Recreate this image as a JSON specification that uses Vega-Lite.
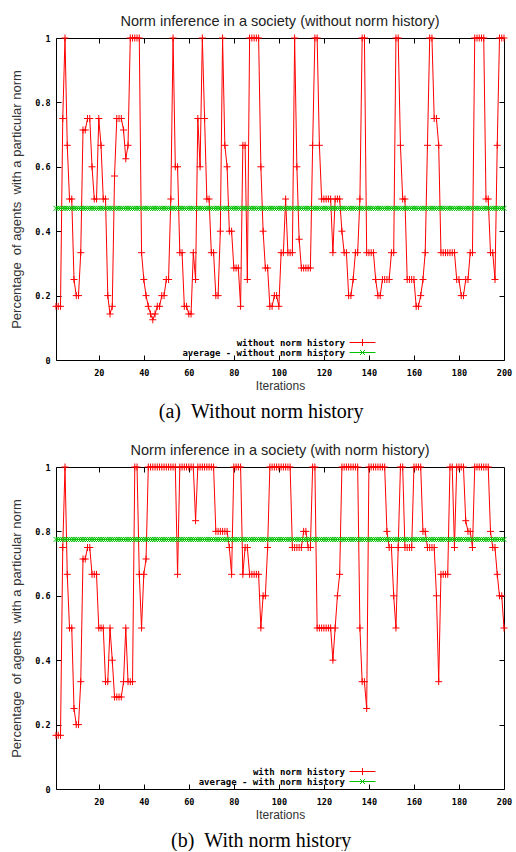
{
 "$schema": "https://vega.github.io/schema/vega-lite/v6.json",
 "background": "white",
 "padding": {"left": 10, "top": 13, "right": 4, "bottom": 0},
 "spacing": 20,
 "resolve": {"scale": {"color": "independent"}, "legend": {"color": "independent"}},
 "config": {"view": {"stroke": "#000", "strokeWidth": 1}},
 "datasets": {
  "a": [{"i":1,"v":0.1667,"avg":0.471},{"i":2,"v":0.1667,"avg":0.471},{"i":3,"v":0.1667,"avg":0.471},{"i":4,"v":0.75,"avg":0.471},{"i":5,"v":1,"avg":0.471},{"i":6,"v":0.6667,"avg":0.471},{"i":7,"v":0.5,"avg":0.471},{"i":8,"v":0.5,"avg":0.471},{"i":9,"v":0.25,"avg":0.471},{"i":10,"v":0.2,"avg":0.471},
{"i":11,"v":0.2,"avg":0.471},{"i":12,"v":0.3333,"avg":0.471},{"i":13,"v":0.7143,"avg":0.471},{"i":14,"v":0.7143,"avg":0.471},{"i":15,"v":0.75,"avg":0.471},{"i":16,"v":0.75,"avg":0.471},{"i":17,"v":0.6,"avg":0.471},{"i":18,"v":0.5,"avg":0.471},{"i":19,"v":0.5,"avg":0.471},{"i":20,"v":0.75,"avg":0.471},
{"i":21,"v":0.6667,"avg":0.471},{"i":22,"v":0.5,"avg":0.471},{"i":23,"v":0.5,"avg":0.471},{"i":24,"v":0.2,"avg":0.471},{"i":25,"v":0.1429,"avg":0.471},{"i":26,"v":0.1667,"avg":0.471},{"i":27,"v":0.5714,"avg":0.471},{"i":28,"v":0.75,"avg":0.471},{"i":29,"v":0.75,"avg":0.471},{"i":30,"v":0.75,"avg":0.471},
{"i":31,"v":0.7143,"avg":0.471},{"i":32,"v":0.625,"avg":0.471},{"i":33,"v":0.6667,"avg":0.471},{"i":34,"v":1,"avg":0.471},{"i":35,"v":1,"avg":0.471},{"i":36,"v":1,"avg":0.471},{"i":37,"v":1,"avg":0.471},{"i":38,"v":1,"avg":0.471},{"i":39,"v":0.3333,"avg":0.471},{"i":40,"v":0.25,"avg":0.471},
{"i":41,"v":0.2,"avg":0.471},{"i":42,"v":0.1667,"avg":0.471},{"i":43,"v":0.1429,"avg":0.471},{"i":44,"v":0.125,"avg":0.471},{"i":45,"v":0.1429,"avg":0.471},{"i":46,"v":0.1667,"avg":0.471},{"i":47,"v":0.1667,"avg":0.471},{"i":48,"v":0.2,"avg":0.471},{"i":49,"v":0.2,"avg":0.471},{"i":50,"v":0.25,"avg":0.471},
{"i":51,"v":0.25,"avg":0.471},{"i":52,"v":0.5,"avg":0.471},{"i":53,"v":1,"avg":0.471},{"i":54,"v":0.6,"avg":0.471},{"i":55,"v":0.6,"avg":0.471},{"i":56,"v":0.3333,"avg":0.471},{"i":57,"v":0.3333,"avg":0.471},{"i":58,"v":0.1667,"avg":0.471},{"i":59,"v":0.1667,"avg":0.471},{"i":60,"v":0.1429,"avg":0.471},
{"i":61,"v":0.1429,"avg":0.471},{"i":62,"v":0.3333,"avg":0.471},{"i":63,"v":0.25,"avg":0.471},{"i":64,"v":0.75,"avg":0.471},{"i":65,"v":0.6,"avg":0.471},{"i":66,"v":1,"avg":0.471},{"i":67,"v":0.75,"avg":0.471},{"i":68,"v":0.5,"avg":0.471},{"i":69,"v":0.5,"avg":0.471},{"i":70,"v":0.3333,"avg":0.471},
{"i":71,"v":0.3333,"avg":0.471},{"i":72,"v":0.2,"avg":0.471},{"i":73,"v":0.2,"avg":0.471},{"i":74,"v":0.4,"avg":0.471},{"i":75,"v":1,"avg":0.471},{"i":76,"v":0.6667,"avg":0.471},{"i":77,"v":0.6,"avg":0.471},{"i":78,"v":0.4,"avg":0.471},{"i":79,"v":0.4,"avg":0.471},{"i":80,"v":0.2857,"avg":0.471},
{"i":81,"v":0.2857,"avg":0.471},{"i":82,"v":0.2857,"avg":0.471},{"i":83,"v":0.1667,"avg":0.471},{"i":84,"v":0.6667,"avg":0.471},{"i":85,"v":0.6667,"avg":0.471},{"i":86,"v":0.25,"avg":0.471},{"i":87,"v":1,"avg":0.471},{"i":88,"v":1,"avg":0.471},{"i":89,"v":1,"avg":0.471},{"i":90,"v":1,"avg":0.471},
{"i":91,"v":1,"avg":0.471},{"i":92,"v":0.6,"avg":0.471},{"i":93,"v":0.4,"avg":0.471},{"i":94,"v":0.2857,"avg":0.471},{"i":95,"v":0.2857,"avg":0.471},{"i":96,"v":0.1667,"avg":0.471},{"i":97,"v":0.1667,"avg":0.471},{"i":98,"v":0.2,"avg":0.471},{"i":99,"v":0.2,"avg":0.471},{"i":100,"v":0.1667,"avg":0.471},
{"i":101,"v":0.3333,"avg":0.471},{"i":102,"v":0.3333,"avg":0.471},{"i":103,"v":0.5,"avg":0.471},{"i":104,"v":0.3333,"avg":0.471},{"i":105,"v":0.3333,"avg":0.471},{"i":106,"v":0.3333,"avg":0.471},{"i":107,"v":1,"avg":0.471},{"i":108,"v":0.6,"avg":0.471},{"i":109,"v":0.375,"avg":0.471},{"i":110,"v":0.2857,"avg":0.471},
{"i":111,"v":0.2857,"avg":0.471},{"i":112,"v":0.2857,"avg":0.471},{"i":113,"v":0.2857,"avg":0.471},{"i":114,"v":0.2857,"avg":0.471},{"i":115,"v":0.6667,"avg":0.471},{"i":116,"v":1,"avg":0.471},{"i":117,"v":1,"avg":0.471},{"i":118,"v":0.6667,"avg":0.471},{"i":119,"v":0.5,"avg":0.471},{"i":120,"v":0.5,"avg":0.471},
{"i":121,"v":0.5,"avg":0.471},{"i":122,"v":0.5,"avg":0.471},{"i":123,"v":0.5,"avg":0.471},{"i":124,"v":0.3333,"avg":0.471},{"i":125,"v":0.5,"avg":0.471},{"i":126,"v":0.5,"avg":0.471},{"i":127,"v":0.5,"avg":0.471},{"i":128,"v":0.4,"avg":0.471},{"i":129,"v":0.3333,"avg":0.471},{"i":130,"v":0.3333,"avg":0.471},
{"i":131,"v":0.2,"avg":0.471},{"i":132,"v":0.2,"avg":0.471},{"i":133,"v":0.25,"avg":0.471},{"i":134,"v":0.3333,"avg":0.471},{"i":135,"v":0.3333,"avg":0.471},{"i":136,"v":0.5,"avg":0.471},{"i":137,"v":1,"avg":0.471},{"i":138,"v":1,"avg":0.471},{"i":139,"v":0.3333,"avg":0.471},{"i":140,"v":0.3333,"avg":0.471},
{"i":141,"v":0.3333,"avg":0.471},{"i":142,"v":0.3333,"avg":0.471},{"i":143,"v":0.25,"avg":0.471},{"i":144,"v":0.2,"avg":0.471},{"i":145,"v":0.2,"avg":0.471},{"i":146,"v":0.25,"avg":0.471},{"i":147,"v":0.25,"avg":0.471},{"i":148,"v":0.25,"avg":0.471},{"i":149,"v":0.25,"avg":0.471},{"i":150,"v":0.3333,"avg":0.471},
{"i":151,"v":0.3333,"avg":0.471},{"i":152,"v":1,"avg":0.471},{"i":153,"v":1,"avg":0.471},{"i":154,"v":0.6667,"avg":0.471},{"i":155,"v":0.5,"avg":0.471},{"i":156,"v":0.5,"avg":0.471},{"i":157,"v":0.25,"avg":0.471},{"i":158,"v":0.25,"avg":0.471},{"i":159,"v":0.25,"avg":0.471},{"i":160,"v":0.25,"avg":0.471},
{"i":161,"v":0.1667,"avg":0.471},{"i":162,"v":0.1667,"avg":0.471},{"i":163,"v":0.2,"avg":0.471},{"i":164,"v":0.25,"avg":0.471},{"i":165,"v":0.3333,"avg":0.471},{"i":166,"v":0.6667,"avg":0.471},{"i":167,"v":1,"avg":0.471},{"i":168,"v":1,"avg":0.471},{"i":169,"v":0.75,"avg":0.471},{"i":170,"v":0.75,"avg":0.471},
{"i":171,"v":0.6667,"avg":0.471},{"i":172,"v":0.3333,"avg":0.471},{"i":173,"v":0.3333,"avg":0.471},{"i":174,"v":0.3333,"avg":0.471},{"i":175,"v":0.3333,"avg":0.471},{"i":176,"v":0.3333,"avg":0.471},{"i":177,"v":0.3333,"avg":0.471},{"i":178,"v":0.3333,"avg":0.471},{"i":179,"v":0.25,"avg":0.471},{"i":180,"v":0.25,"avg":0.471},
{"i":181,"v":0.2,"avg":0.471},{"i":182,"v":0.2,"avg":0.471},{"i":183,"v":0.25,"avg":0.471},{"i":184,"v":0.25,"avg":0.471},{"i":185,"v":0.3333,"avg":0.471},{"i":186,"v":0.3333,"avg":0.471},{"i":187,"v":1,"avg":0.471},{"i":188,"v":1,"avg":0.471},{"i":189,"v":1,"avg":0.471},{"i":190,"v":1,"avg":0.471},
{"i":191,"v":1,"avg":0.471},{"i":192,"v":0.5,"avg":0.471},{"i":193,"v":0.5,"avg":0.471},{"i":194,"v":0.3333,"avg":0.471},{"i":195,"v":0.3333,"avg":0.471},{"i":196,"v":0.25,"avg":0.471},{"i":197,"v":0.6667,"avg":0.471},{"i":198,"v":1,"avg":0.471},{"i":199,"v":1,"avg":0.471},{"i":200,"v":1,"avg":0.471}],
  "b": [{"i":1,"v":0.1667,"avg":0.775},{"i":2,"v":0.1667,"avg":0.775},{"i":3,"v":0.1667,"avg":0.775},{"i":4,"v":0.75,"avg":0.775},{"i":5,"v":1,"avg":0.775},{"i":6,"v":0.6667,"avg":0.775},{"i":7,"v":0.5,"avg":0.775},{"i":8,"v":0.5,"avg":0.775},{"i":9,"v":0.25,"avg":0.775},{"i":10,"v":0.2,"avg":0.775},
{"i":11,"v":0.2,"avg":0.775},{"i":12,"v":0.3333,"avg":0.775},{"i":13,"v":0.7143,"avg":0.775},{"i":14,"v":0.7143,"avg":0.775},{"i":15,"v":0.75,"avg":0.775},{"i":16,"v":0.75,"avg":0.775},{"i":17,"v":0.6667,"avg":0.775},{"i":18,"v":0.6667,"avg":0.775},{"i":19,"v":0.6667,"avg":0.775},{"i":20,"v":0.5,"avg":0.775},
{"i":21,"v":0.5,"avg":0.775},{"i":22,"v":0.5,"avg":0.775},{"i":23,"v":0.3333,"avg":0.775},{"i":24,"v":0.3333,"avg":0.775},{"i":25,"v":0.5,"avg":0.775},{"i":26,"v":0.4,"avg":0.775},{"i":27,"v":0.2857,"avg":0.775},{"i":28,"v":0.2857,"avg":0.775},{"i":29,"v":0.2857,"avg":0.775},{"i":30,"v":0.2857,"avg":0.775},
{"i":31,"v":0.3333,"avg":0.775},{"i":32,"v":0.5,"avg":0.775},{"i":33,"v":0.3333,"avg":0.775},{"i":34,"v":0.3333,"avg":0.775},{"i":35,"v":0.3333,"avg":0.775},{"i":36,"v":1,"avg":0.775},{"i":37,"v":1,"avg":0.775},{"i":38,"v":0.6667,"avg":0.775},{"i":39,"v":0.5,"avg":0.775},{"i":40,"v":0.6667,"avg":0.775},
{"i":41,"v":0.7143,"avg":0.775},{"i":42,"v":1,"avg":0.775},{"i":43,"v":1,"avg":0.775},{"i":44,"v":1,"avg":0.775},{"i":45,"v":1,"avg":0.775},{"i":46,"v":1,"avg":0.775},{"i":47,"v":1,"avg":0.775},{"i":48,"v":1,"avg":0.775},{"i":49,"v":1,"avg":0.775},{"i":50,"v":1,"avg":0.775},
{"i":51,"v":1,"avg":0.775},{"i":52,"v":1,"avg":0.775},{"i":53,"v":1,"avg":0.775},{"i":54,"v":1,"avg":0.775},{"i":55,"v":0.6667,"avg":0.775},{"i":56,"v":1,"avg":0.775},{"i":57,"v":1,"avg":0.775},{"i":58,"v":1,"avg":0.775},{"i":59,"v":1,"avg":0.775},{"i":60,"v":1,"avg":0.775},
{"i":61,"v":1,"avg":0.775},{"i":62,"v":1,"avg":0.775},{"i":63,"v":0.8333,"avg":0.775},{"i":64,"v":1,"avg":0.775},{"i":65,"v":1,"avg":0.775},{"i":66,"v":1,"avg":0.775},{"i":67,"v":1,"avg":0.775},{"i":68,"v":1,"avg":0.775},{"i":69,"v":1,"avg":0.775},{"i":70,"v":1,"avg":0.775},
{"i":71,"v":1,"avg":0.775},{"i":72,"v":0.8,"avg":0.775},{"i":73,"v":0.8,"avg":0.775},{"i":74,"v":0.8,"avg":0.775},{"i":75,"v":0.8,"avg":0.775},{"i":76,"v":0.8,"avg":0.775},{"i":77,"v":0.8,"avg":0.775},{"i":78,"v":0.75,"avg":0.775},{"i":79,"v":0.6667,"avg":0.775},{"i":80,"v":1,"avg":0.775},
{"i":81,"v":1,"avg":0.775},{"i":82,"v":1,"avg":0.775},{"i":83,"v":1,"avg":0.775},{"i":84,"v":0.6667,"avg":0.775},{"i":85,"v":0.75,"avg":0.775},{"i":86,"v":0.75,"avg":0.775},{"i":87,"v":0.6667,"avg":0.775},{"i":88,"v":0.6667,"avg":0.775},{"i":89,"v":0.6667,"avg":0.775},{"i":90,"v":0.6667,"avg":0.775},
{"i":91,"v":0.6667,"avg":0.775},{"i":92,"v":0.5,"avg":0.775},{"i":93,"v":0.6,"avg":0.775},{"i":94,"v":0.6,"avg":0.775},{"i":95,"v":0.75,"avg":0.775},{"i":96,"v":1,"avg":0.775},{"i":97,"v":1,"avg":0.775},{"i":98,"v":1,"avg":0.775},{"i":99,"v":1,"avg":0.775},{"i":100,"v":1,"avg":0.775},
{"i":101,"v":1,"avg":0.775},{"i":102,"v":1,"avg":0.775},{"i":103,"v":1,"avg":0.775},{"i":104,"v":1,"avg":0.775},{"i":105,"v":1,"avg":0.775},{"i":106,"v":0.75,"avg":0.775},{"i":107,"v":0.75,"avg":0.775},{"i":108,"v":0.75,"avg":0.775},{"i":109,"v":0.75,"avg":0.775},{"i":110,"v":0.75,"avg":0.775},
{"i":111,"v":0.8,"avg":0.775},{"i":112,"v":0.8,"avg":0.775},{"i":113,"v":0.75,"avg":0.775},{"i":114,"v":0.75,"avg":0.775},{"i":115,"v":1,"avg":0.775},{"i":116,"v":1,"avg":0.775},{"i":117,"v":0.5,"avg":0.775},{"i":118,"v":0.5,"avg":0.775},{"i":119,"v":0.5,"avg":0.775},{"i":120,"v":0.5,"avg":0.775},
{"i":121,"v":0.5,"avg":0.775},{"i":122,"v":0.5,"avg":0.775},{"i":123,"v":0.5,"avg":0.775},{"i":124,"v":0.4,"avg":0.775},{"i":125,"v":0.5,"avg":0.775},{"i":126,"v":0.6,"avg":0.775},{"i":127,"v":0.6667,"avg":0.775},{"i":128,"v":1,"avg":0.775},{"i":129,"v":1,"avg":0.775},{"i":130,"v":1,"avg":0.775},
{"i":131,"v":1,"avg":0.775},{"i":132,"v":1,"avg":0.775},{"i":133,"v":1,"avg":0.775},{"i":134,"v":1,"avg":0.775},{"i":135,"v":1,"avg":0.775},{"i":136,"v":0.5,"avg":0.775},{"i":137,"v":0.3333,"avg":0.775},{"i":138,"v":0.3333,"avg":0.775},{"i":139,"v":0.25,"avg":0.775},{"i":140,"v":1,"avg":0.775},
{"i":141,"v":1,"avg":0.775},{"i":142,"v":1,"avg":0.775},{"i":143,"v":1,"avg":0.775},{"i":144,"v":1,"avg":0.775},{"i":145,"v":1,"avg":0.775},{"i":146,"v":1,"avg":0.775},{"i":147,"v":1,"avg":0.775},{"i":148,"v":0.8,"avg":0.775},{"i":149,"v":0.75,"avg":0.775},{"i":150,"v":0.75,"avg":0.775},
{"i":151,"v":0.6,"avg":0.775},{"i":152,"v":0.5,"avg":0.775},{"i":153,"v":0.75,"avg":0.775},{"i":154,"v":1,"avg":0.775},{"i":155,"v":1,"avg":0.775},{"i":156,"v":0.75,"avg":0.775},{"i":157,"v":0.75,"avg":0.775},{"i":158,"v":0.75,"avg":0.775},{"i":159,"v":0.75,"avg":0.775},{"i":160,"v":1,"avg":0.775},
{"i":161,"v":1,"avg":0.775},{"i":162,"v":1,"avg":0.775},{"i":163,"v":1,"avg":0.775},{"i":164,"v":0.8,"avg":0.775},{"i":165,"v":0.8,"avg":0.775},{"i":166,"v":0.75,"avg":0.775},{"i":167,"v":0.75,"avg":0.775},{"i":168,"v":0.75,"avg":0.775},{"i":169,"v":0.75,"avg":0.775},{"i":170,"v":0.6,"avg":0.775},
{"i":171,"v":0.3333,"avg":0.775},{"i":172,"v":0.6667,"avg":0.775},{"i":173,"v":0.6667,"avg":0.775},{"i":174,"v":0.6667,"avg":0.775},{"i":175,"v":0.6667,"avg":0.775},{"i":176,"v":1,"avg":0.775},{"i":177,"v":1,"avg":0.775},{"i":178,"v":0.75,"avg":0.775},{"i":179,"v":1,"avg":0.775},{"i":180,"v":1,"avg":0.775},
{"i":181,"v":1,"avg":0.775},{"i":182,"v":1,"avg":0.775},{"i":183,"v":0.8333,"avg":0.775},{"i":184,"v":0.8,"avg":0.775},{"i":185,"v":0.8,"avg":0.775},{"i":186,"v":0.75,"avg":0.775},{"i":187,"v":1,"avg":0.775},{"i":188,"v":1,"avg":0.775},{"i":189,"v":1,"avg":0.775},{"i":190,"v":1,"avg":0.775},
{"i":191,"v":1,"avg":0.775},{"i":192,"v":1,"avg":0.775},{"i":193,"v":1,"avg":0.775},{"i":194,"v":0.8,"avg":0.775},{"i":195,"v":0.75,"avg":0.775},{"i":196,"v":0.75,"avg":0.775},{"i":197,"v":0.6667,"avg":0.775},{"i":198,"v":0.6,"avg":0.775},{"i":199,"v":0.6,"avg":0.775},{"i":200,"v":0.5,"avg":0.775}]
 },
 "vconcat": [
  {
   "title": {"text": "(a)\u00a0\u00a0Without norm history", "orient": "bottom", "anchor": "middle", "frame": "bounds", "font": "Liberation Serif", "fontSize": 20, "fontWeight": "normal", "color": "#000", "offset": 10},
   "vconcat": [{
    "title": {"text": "Norm inference in a society (without norm history)", "frame": "group", "anchor": "middle", "font": "Liberation Sans", "fontSize": 14.5, "fontWeight": "normal", "color": "#222", "offset": 3},
    "width": 448, "height": 322,
    "data": {"name": "a"},
    "transform": [{"fold": ["v", "avg"], "as": ["key", "value"]}],
    "resolve": {"axis": {"x": "independent", "y": "independent"}},
    "layer": [
     {
      "mark": {"type": "line", "strokeWidth": 1},
      "encoding": {
       "x": {"field": "i", "type": "quantitative", "scale": {"domain": [1, 200], "nice": false, "zero": false},
             "axis": {"values": [20,40,60,80,100,120,140,160,180,200], "labelFlush": false, "grid": false, "domain": false, "tickSize": -5, "tickColor": "#000", "labelPadding": 13,
                      "labelFont": "DejaVu Sans Mono", "labelFontWeight": "bold", "labelFontSize": 8.5, "labelColor": "#000",
                      "title": "Iterations", "titleFont": "Liberation Sans", "titleFontSize": 12, "titleFontWeight": "normal", "titleColor": "#333", "titlePadding": 4}},
       "y": {"field": "value", "type": "quantitative", "scale": {"domain": [0, 1], "nice": false},
             "axis": {"values": [0,0.2,0.4,0.6,0.8,1], "format": "~g", "labelFlush": false, "grid": false, "domain": false, "tickSize": -5, "tickColor": "#000", "labelPadding": 11,
                      "labelFont": "DejaVu Sans Mono", "labelFontWeight": "bold", "labelFontSize": 8.5, "labelColor": "#000",
                      "title": "Percentage\u00a0\u00a0of agents\u00a0\u00a0with a particular norm", "titleFont": "Liberation Sans", "titleFontSize": 13, "titleFontWeight": "normal", "titleColor": "#333", "titlePadding": 11}},
       "color": {"field": "key", "type": "nominal", "scale": {"domain": ["v", "avg"], "range": ["#ff0000", "#00c000"]},
                 "legend": {"orient": "none", "legendX": 302, "legendY": 300, "title": null, "rowPadding": 0, "padding": 0,
                            "labelFont": "DejaVu Sans Mono", "labelFontWeight": "bold", "labelFontSize": 9, "labelColor": "#000", "labelLimit": 0,
                            "labelAlign": "right", "labelOffset": -22,
                            "symbolType": "M-3.7,0H3.7M0,-1V1", "symbolSize": 49, "symbolStrokeWidth": 1,
                            "encode": {"symbols": {"update": {"shape": {"signal": "datum.value == 'v' ? 'M-3.7,0H3.7M0,-1V1' : 'M-3.7,0H3.7M-0.7,-0.7L0.7,0.7M-0.7,0.7L0.7,-0.7'"}}}},
                            "labelExpr": "datum.label == 'v' ? 'without norm history' : 'average - without norm history'"}}
      }
     },
     {
      "transform": [{"filter": "datum.key == 'v'"}],
      "mark": {"type": "point", "filled": false, "strokeWidth": 1, "opacity": 1, "size": 25, "shape": "M-1.4,0H1.4M0,-1.4V1.4", "color": "#ff0000"},
      "encoding": {
       "x": {"field": "i", "type": "quantitative", "scale": {"domain": [1, 200], "nice": false, "zero": false},
             "axis": {"orient": "top", "values": [20,40,60,80,100,120,140,160,180], "labels": false, "grid": false, "domain": false, "tickSize": -5, "tickColor": "#000", "title": null}},
       "y": {"field": "value", "type": "quantitative", "scale": {"domain": [0, 1], "nice": false},
             "axis": {"orient": "right", "values": [0.2,0.4,0.6,0.8], "labels": false, "grid": false, "domain": false, "tickSize": -5, "tickColor": "#000", "title": null}}
      }
     },
     {
      "transform": [{"filter": "datum.key == 'avg'"}],
      "mark": {"type": "point", "filled": false, "strokeWidth": 1, "opacity": 1, "size": 25, "shape": "M-1,-1L1,1M-1,1L1,-1", "color": "#00c000"},
      "encoding": {
       "x": {"field": "i", "type": "quantitative", "axis": null},
       "y": {"field": "value", "type": "quantitative", "axis": null}
      }
     }
    ]
   }]
  },
  {
   "title": {"text": "(b)\u00a0\u00a0With norm history", "orient": "bottom", "anchor": "middle", "frame": "bounds", "font": "Liberation Serif", "fontSize": 20, "fontWeight": "normal", "color": "#000", "offset": 10},
   "vconcat": [{
    "title": {"text": "Norm inference in a society (with norm history)", "frame": "group", "anchor": "middle", "font": "Liberation Sans", "fontSize": 14.5, "fontWeight": "normal", "color": "#222", "offset": 3},
    "width": 448, "height": 322,
    "data": {"name": "b"},
    "transform": [{"fold": ["v", "avg"], "as": ["key", "value"]}],
    "resolve": {"axis": {"x": "independent", "y": "independent"}},
    "layer": [
     {
      "mark": {"type": "line", "strokeWidth": 1},
      "encoding": {
       "x": {"field": "i", "type": "quantitative", "scale": {"domain": [1, 200], "nice": false, "zero": false},
             "axis": {"values": [20,40,60,80,100,120,140,160,180,200], "labelFlush": false, "grid": false, "domain": false, "tickSize": -5, "tickColor": "#000", "labelPadding": 13,
                      "labelFont": "DejaVu Sans Mono", "labelFontWeight": "bold", "labelFontSize": 8.5, "labelColor": "#000",
                      "title": "Iterations", "titleFont": "Liberation Sans", "titleFontSize": 12, "titleFontWeight": "normal", "titleColor": "#333", "titlePadding": 4}},
       "y": {"field": "value", "type": "quantitative", "scale": {"domain": [0, 1], "nice": false},
             "axis": {"values": [0,0.2,0.4,0.6,0.8,1], "format": "~g", "labelFlush": false, "grid": false, "domain": false, "tickSize": -5, "tickColor": "#000", "labelPadding": 11,
                      "labelFont": "DejaVu Sans Mono", "labelFontWeight": "bold", "labelFontSize": 8.5, "labelColor": "#000",
                      "title": "Percentage\u00a0\u00a0of agents\u00a0\u00a0with a particular norm", "titleFont": "Liberation Sans", "titleFontSize": 13, "titleFontWeight": "normal", "titleColor": "#333", "titlePadding": 11}},
       "color": {"field": "key", "type": "nominal", "scale": {"domain": ["v", "avg"], "range": ["#ff0000", "#00c000"]},
                 "legend": {"orient": "none", "legendX": 302, "legendY": 300, "title": null, "rowPadding": 0, "padding": 0,
                            "labelFont": "DejaVu Sans Mono", "labelFontWeight": "bold", "labelFontSize": 9, "labelColor": "#000", "labelLimit": 0,
                            "labelAlign": "right", "labelOffset": -22,
                            "symbolType": "M-3.7,0H3.7M0,-1V1", "symbolSize": 49, "symbolStrokeWidth": 1,
                            "encode": {"symbols": {"update": {"shape": {"signal": "datum.value == 'v' ? 'M-3.7,0H3.7M0,-1V1' : 'M-3.7,0H3.7M-0.7,-0.7L0.7,0.7M-0.7,0.7L0.7,-0.7'"}}}},
                            "labelExpr": "datum.label == 'v' ? 'with norm history' : 'average - with norm history'"}}
      }
     },
     {
      "transform": [{"filter": "datum.key == 'v'"}],
      "mark": {"type": "point", "filled": false, "strokeWidth": 1, "opacity": 1, "size": 25, "shape": "M-1.4,0H1.4M0,-1.4V1.4", "color": "#ff0000"},
      "encoding": {
       "x": {"field": "i", "type": "quantitative", "scale": {"domain": [1, 200], "nice": false, "zero": false},
             "axis": {"orient": "top", "values": [20,40,60,80,100,120,140,160,180], "labels": false, "grid": false, "domain": false, "tickSize": -5, "tickColor": "#000", "title": null}},
       "y": {"field": "value", "type": "quantitative", "scale": {"domain": [0, 1], "nice": false},
             "axis": {"orient": "right", "values": [0.2,0.4,0.6,0.8], "labels": false, "grid": false, "domain": false, "tickSize": -5, "tickColor": "#000", "title": null}}
      }
     },
     {
      "transform": [{"filter": "datum.key == 'avg'"}],
      "mark": {"type": "point", "filled": false, "strokeWidth": 1, "opacity": 1, "size": 25, "shape": "M-1,-1L1,1M-1,1L1,-1", "color": "#00c000"},
      "encoding": {
       "x": {"field": "i", "type": "quantitative", "axis": null},
       "y": {"field": "value", "type": "quantitative", "axis": null}
      }
     }
    ]
   }]
  }
 ]
}
